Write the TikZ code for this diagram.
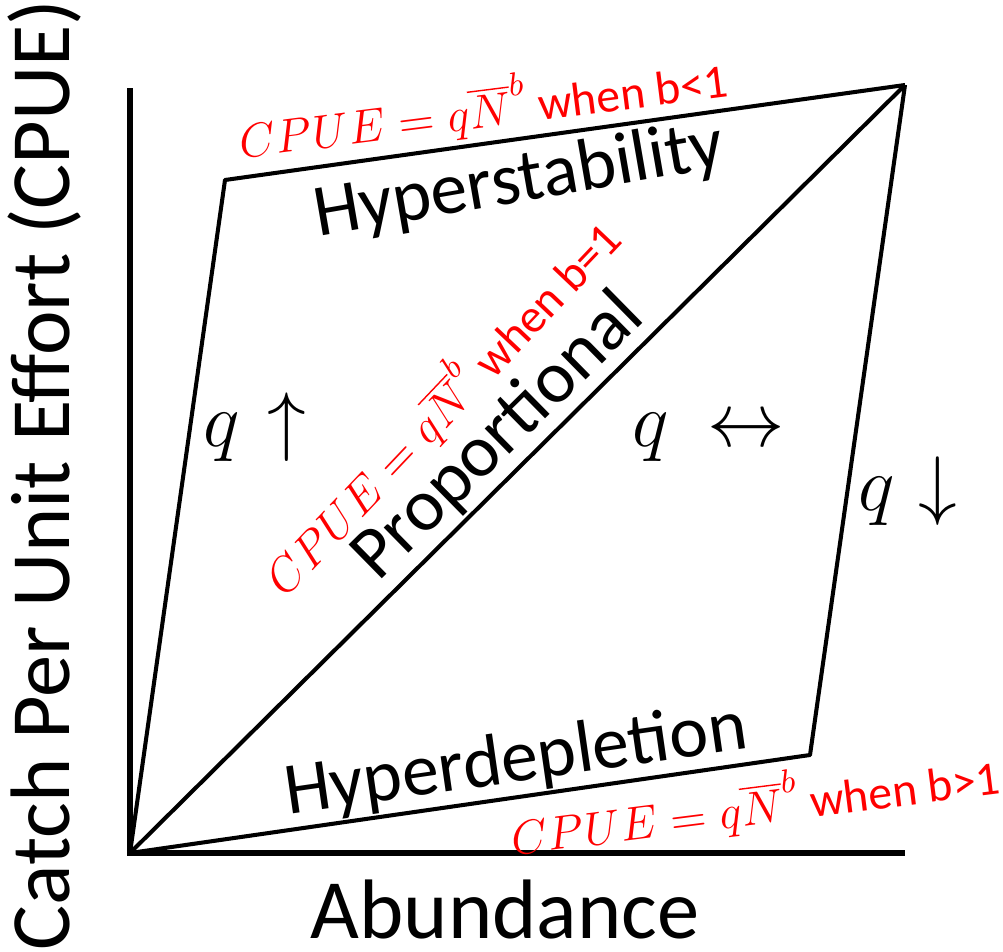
\RequirePackage{fix-cm}
\documentclass[tikz,border=0pt]{standalone}
\usepackage{fontspec}
\setmainfont{Carlito}
\tikzset{
  axisline/.style={line width=1.8pt, line cap=butt},
  curveline/.style={line width=1.15pt, line join=round},
  biglabel/.style={font=\fontsize{24}{28}\selectfont, inner sep=0pt},
  reglabel/.style={font=\fontsize{21}{25}\selectfont, inner sep=0pt},
  redlabel/.style={text=red, font=\fontsize{13.5}{16}\selectfont, inner sep=0pt},
  qlabel/.style={font=\fontsize{22}{26}\selectfont, inner sep=0pt, anchor=base west}
}
\begin{document}
\begin{tikzpicture}[x=0.01cm, y=-0.01cm]
\useasboundingbox (0,0) rectangle (1003,952);
% key points
\coordinate (O) at (130,853);
\coordinate (Ytop) at (130,88);
\coordinate (Xend) at (905,853);
\coordinate (A) at (225,180);
\coordinate (B) at (905,85);
\coordinate (C) at (810,755);
% axes
\draw[axisline] ([yshift=0.9pt]O) -- (Ytop);
\draw[axisline] ([xshift=-0.9pt]O) -- (Xend);
% curves
\draw[curveline] (O) -- (A) -- (B);
\draw[curveline] (O) -- (B);
\draw[curveline] (B) -- (C) -- (O);
% axis labels
\node[biglabel, rotate=90, anchor=base] (ylab) at (69,475) {Catch Per Unit Effort (CPUE)};
\node[biglabel, anchor=base] (xlab) at (505,938) {Abundance};
% region labels
\node[reglabel, rotate=9.8] (hs) at (519,182) {Hyperstability};
\node[reglabel, rotate=44.5] (prop) at (499,437) {Proportional};
\node[reglabel, rotate=8.2] (hd) at (516,762) {Hyperdepletion};
% red equations
\node[redlabel, rotate=7.2] (eq1) at (483,107) {$CPUE = q\overline{N}^{b}$ when b<1};
\node[redlabel, rotate=46.5] (eq2) at (440,406) {$CPUE = q\overline{N}^{b}$ when b=1};
\node[redlabel, rotate=7.2] (eq3) at (755,804) {$CPUE = q\overline{N}^{b}$ when b>1};
% q labels
\node[qlabel] (qup) at (203,446) {$q\hspace{0.35em}\mathord{\uparrow}$};
\node[qlabel] (qlr) at (632,447) {$q\hspace{0.5em}\mathord{\leftrightarrow}$};
\node[qlabel] (qdn) at (858,511) {$q\hspace{0.3em}\mathord{\downarrow}$};
\end{tikzpicture}
\end{document}
